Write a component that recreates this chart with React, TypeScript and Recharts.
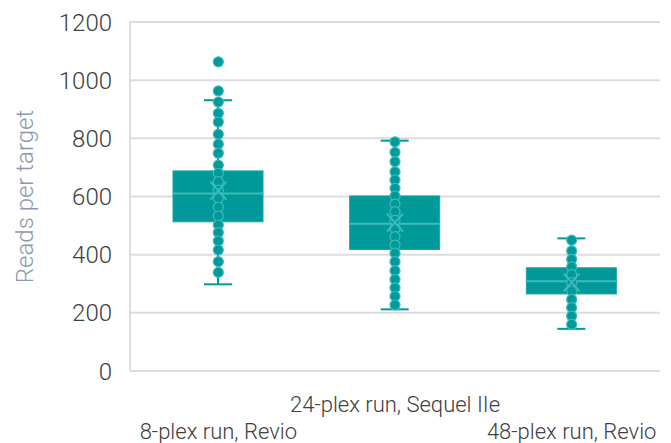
import { ComposedChart, Bar, Scatter, XAxis, YAxis, CartesianGrid } from 'recharts'

// box and whisker stats
const categories = ['8-plex run, Revio', '24-plex run, Sequel IIe', '48-plex run, Revio']
const whiskerLow = [298, 212, 145]
const q1 = [513, 418, 265]
const median = [610, 506, 309]
const q3 = [688, 602, 355]
const whiskerHigh = [931, 792, 456]
const means = [620, 510, 305]
const yTicks = [0, 200, 400, 600, 800, 1000, 1200]

// individual samples per run
const points8plex = [1063, 963, 925, 886, 856, 814, 780, 749, 708, 680, 651, 622, 594, 563, 533, 502, 476, 447, 416, 376, 339]
const points24plex = [788, 752, 720, 685, 657, 628, 602, 574, 548, 518, 490, 462, 433, 405, 376, 345, 315, 286, 257, 227]
const points48plex = [450, 413, 384, 358, 332, 304, 275, 246, 218, 189, 160]

const TEAL = '#009999'
const TEAL_LIGHT = '#3dbaba'
const FONT = 'Roboto, sans-serif'

const boxData = categories.map((name, i) => ({
  name,
  base: whiskerLow[i],
  lowWhisker: q1[i] - whiskerLow[i],
  lowBox: median[i] - q1[i],
  highBox: q3[i] - median[i],
  highWhisker: whiskerHigh[i] - q3[i],
}))

const dotData = [points8plex, points24plex, points48plex].flatMap((pts, i) =>
  pts.map((v) => ({ name: categories[i], v }))
)
const meanData = categories.map((name, i) => ({ name, v: means[i] }))

const norm = (p: any) => {
  const top = Math.min(p.y, p.y + p.height)
  return { x: p.x, top, w: p.width, h: Math.abs(p.height) }
}

const whisker = (cap: 'top' | 'bottom') => (props: any) => {
  const { x, top, w, h } = norm(props)
  const cx = x + w / 2
  const cy = cap === 'top' ? top : top + h
  return (
    <g>
      <line x1={cx} x2={cx} y1={top} y2={top + h} stroke={TEAL} strokeWidth={2} />
      <line x1={cx - 14} x2={cx + 14} y1={cy} y2={cy} stroke={TEAL} strokeWidth={2} />
    </g>
  )
}

const LowBox = (props: any) => {
  const { x, top, w, h } = norm(props)
  return <rect x={x} y={top} width={w} height={h} fill={TEAL} stroke="#1aa6a6" strokeWidth={1} />
}

const HighBox = (props: any) => {
  const { x, top, w, h } = norm(props)
  return (
    <g>
      <rect x={x} y={top} width={w} height={h} fill={TEAL} stroke="#1aa6a6" strokeWidth={1} />
      <line x1={x} x2={x + w} y1={top + h} y2={top + h} stroke={TEAL_LIGHT} strokeWidth={2} />
    </g>
  )
}

const Dot = (props: any) => (
  <circle cx={props.cx} cy={props.cy} r={5} fill={TEAL} stroke={TEAL_LIGHT} strokeWidth={1.2} />
)

const MeanMark = (props: any) => {
  const { cx, cy } = props
  return (
    <g stroke={TEAL_LIGHT} strokeWidth={2}>
      <line x1={cx - 8} y1={cy - 9} x2={cx + 8} y2={cy + 9} />
      <line x1={cx - 8} y1={cy + 9} x2={cx + 8} y2={cy - 9} />
    </g>
  )
}

const CategoryTick = (props: any) => {
  const { x, y, payload } = props
  const idx = categories.indexOf(payload.value)
  return (
    <text
      x={x}
      y={y + (idx === 1 ? 33 : 60)}
      textAnchor="middle"
      fill="#404040"
      fontSize={22}
      fontWeight={300}
      fontFamily={FONT}
    >
      {payload.value}
    </text>
  )
}

const YLabel = (props: any) => {
  const { viewBox } = props
  const cx = viewBox.x + 25
  const cy = viewBox.y + viewBox.height / 2
  return (
    <text
      x={cx}
      y={cy}
      transform={`rotate(-90 ${cx} ${cy})`}
      textAnchor="middle"
      dominantBaseline="central"
      fill="#8e97ad"
      fontSize={24}
      fontWeight={300}
      fontFamily={FONT}
    >
      Reads per target
    </text>
  )
}

export default function App() {
  return (
    <div style={{ width: 671, height: 443 }}>
      <style>{'body{margin:0}'}</style>
      <ComposedChart
        width={671}
        height={443}
        data={boxData}
        margin={{ top: 22, right: 11, left: 0, bottom: 0 }}
      >
        <CartesianGrid vertical={false} stroke="#dcdce3" strokeWidth={2} />
        <XAxis
          dataKey="name"
          allowDuplicatedCategory={false}
          height={72}
          axisLine={{ stroke: '#dcdce3', strokeWidth: 2 }}
          tickLine={false}
          tick={<CategoryTick />}
          interval={0}
        />
        <YAxis
          width={130}
          domain={[0, 1200]}
          ticks={yTicks}
          axisLine={{ stroke: '#dcdce3', strokeWidth: 2 }}
          tickLine={false}
          tickMargin={12}
          tick={{ fill: '#404040', fontSize: 24, fontWeight: 300, fontFamily: FONT }}
          label={<YLabel />}
        />
        <Bar dataKey="base" stackId="box" fill="none" barSize={90} isAnimationActive={false} />
        <Bar dataKey="lowWhisker" stackId="box" barSize={90} shape={whisker('bottom')} isAnimationActive={false} />
        <Bar dataKey="lowBox" stackId="box" barSize={90} shape={LowBox} isAnimationActive={false} />
        <Bar dataKey="highBox" stackId="box" barSize={90} shape={HighBox} isAnimationActive={false} />
        <Bar dataKey="highWhisker" stackId="box" barSize={90} shape={whisker('top')} isAnimationActive={false} />
        <Scatter data={dotData} dataKey="v" shape={Dot} isAnimationActive={false} />
        <Scatter data={meanData} dataKey="v" shape={MeanMark} isAnimationActive={false} />
      </ComposedChart>
    </div>
  )
}
